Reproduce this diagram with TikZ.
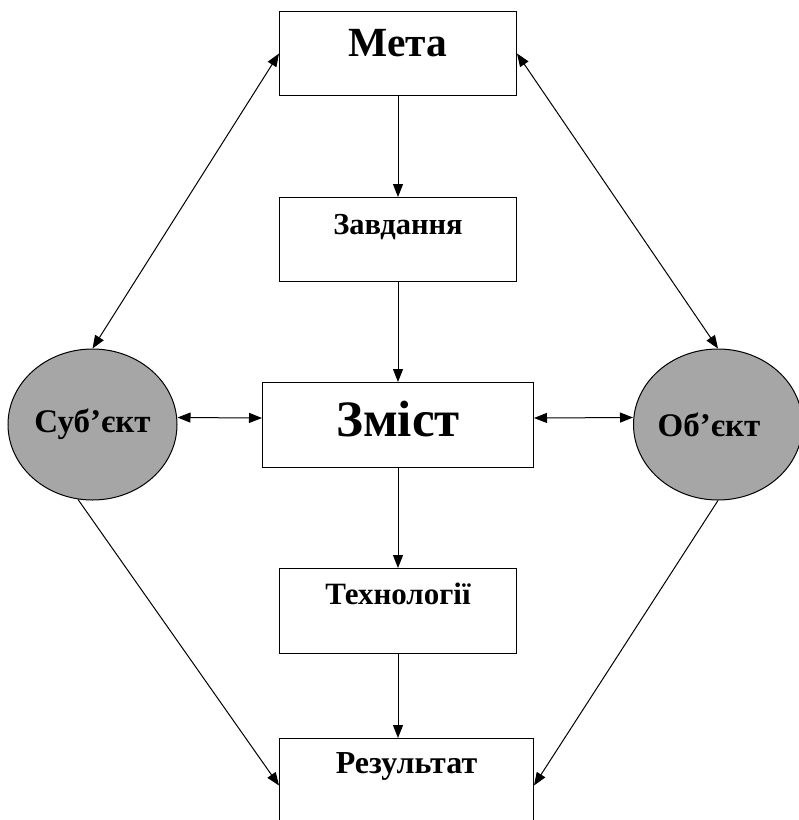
\documentclass[tikz,border=0pt]{standalone}
\usepackage{fontspec}
\setmainfont{Liberation Serif}
\usetikzlibrary{arrows.meta,shapes.geometric,calc}
\definecolor{ovalgray}{RGB}{166,166,166}
\begin{document}
\begin{tikzpicture}[x=1pt,y=-1pt,
  box/.style={draw,line width=1pt,rectangle,inner sep=0pt,anchor=north west,align=center,font=\bfseries},
  oval/.style={draw,line width=1pt,ellipse,fill=ovalgray,inner sep=0pt,minimum width=169pt,minimum height=151pt},
  ovaltext/.style={inner sep=0pt,font=\bfseries\fontsize{33}{35}\selectfont},
  link/.style={line width=1pt,-{Triangle[length=13pt,width=10pt]}},
  both/.style={line width=1pt,{Triangle[length=13pt,width=10pt]}-{Triangle[length=13pt,width=10pt]}}]
\useasboundingbox (0,0) rectangle (799,820);
\node[box,text width=237pt,text height=45pt,text depth=39pt,font=\bfseries\fontsize{41.5}{42}\selectfont] (meta) at (279,11) {Мета};
\node[box,text width=237pt,text height=37pt,text depth=47pt,font=\bfseries\fontsize{30.5}{32}\selectfont] (zavd) at (279,197) {Завдання};
\node[box,text width=271pt,text height=54pt,text depth=31pt,font=\bfseries\fontsize{51}{53}\selectfont] (zmist) at (262,382) {Зміст};
\node[box,text width=237pt,text height=36pt,text depth=49pt,font=\bfseries\fontsize{31}{33}\selectfont] (tech) at (279,568) {Технології};
\node[box,text width=254pt,text height=35pt,text depth=52pt,font=\bfseries\fontsize{32}{34}\selectfont] (rez) at (279,738) {Результат};
\node[oval] (sub) at (92.5,424.5) {};
\node[oval] (ob) at (718,424.5) {};
\node[ovaltext] (subtext) at (sub.center) {Суб’єкт};
\node[ovaltext] (obtext) at ($(ob.center)+(-9,0)$) {Об’єкт};
\draw[both] (meta.west) -- (sub.north);
\draw[both] (meta.east) -- (ob.north);
\draw[link] (meta) -- (zavd);
\draw[link] (zavd) -- (zmist);
\draw[link] (zmist) -- (tech);
\draw[link] (tech.south) -- (tech.south |- rez.north);
\draw[both] ($(sub.east)+(0,-7)$) -- ($(zmist.west)+(0,-7)$);
\draw[both] ($(zmist.east)+(0,-7)$) -- ($(ob.west)+(0,-7)$);
\draw[link] (sub.259) -- ($(rez.west)+(0,3.5)$);
\draw[link] (ob.south) -- ($(rez.east)+(0,3.5)$);
\end{tikzpicture}
\end{document}
